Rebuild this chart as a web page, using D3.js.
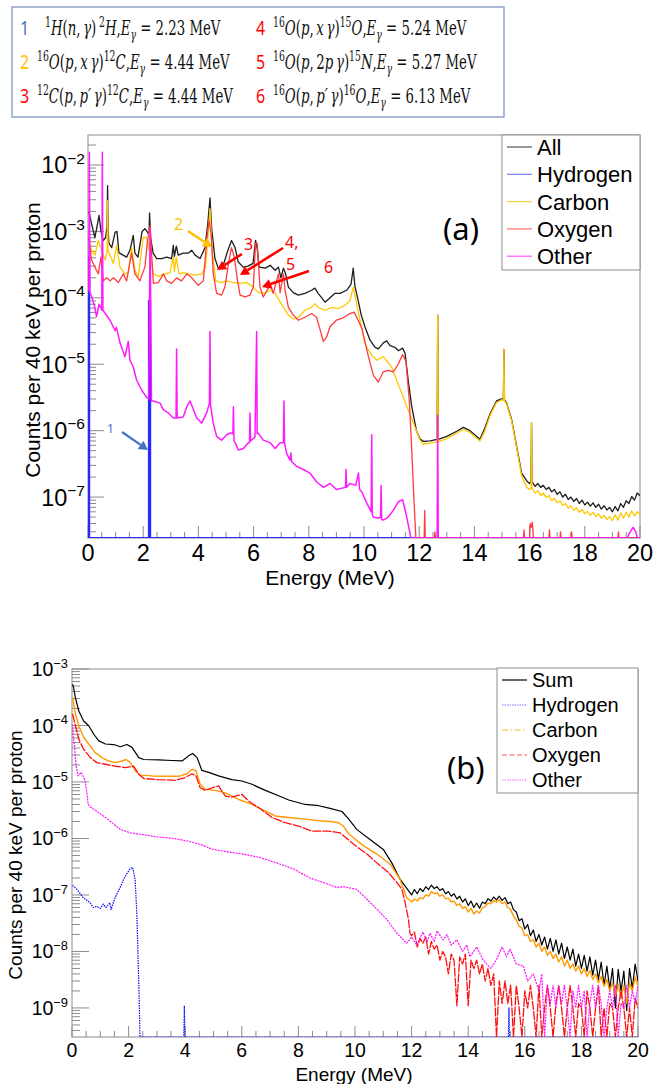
<!DOCTYPE html>
<html><head><meta charset="utf-8">
<script src="https://cdn.jsdelivr.net/npm/d3@7"></script>
<style>body{margin:0;background:#fff}svg{display:block}</style>
</head><body>
<svg id="c" width="663" height="1084"></svg>
<script>
// ---------- axis definitions ----------
const energyTicks = [0,2,4,6,8,10,12,14,16,18,20];
const energyDomain = [0,20];
const countDomainA = [2.42e-8, 2.83e-2];
const countDomainB = [3.06e-10, 1e-3];
const legendA = ["All","Hydrogen","Carbon","Oxygen","Other"];
const legendB = ["Sum","Hydrogen","Carbon","Oxygen","Other"];
const xTitle = "Energy (MeV)";
const yTitle = "Counts per 40 keV per proton";

// ---------- panel (a) series: [energy MeV, counts] ----------
const aAll = [[0,1.9e-3],[0.04,1.93e-3],[0.13,1.3e-3],[0.25,8.1e-4],[0.33,1.2e-3],[0.4,1.74e-3],[0.47,1.0e-3],[0.55,7.3e-4],[0.64,8.1e-4],[0.69,1.2e-3],[0.71,4.9e-3],[0.73,1.0e-3],[0.76,6.6e-4],[0.86,5.7e-4],[0.98,9.7e-4],[1.05,1.0e-3],[1.12,4.8e-4],[1.27,4.4e-4],[1.4,4.1e-4],[1.52,5.2e-4],[1.64,8.7e-4],[1.7,4.7e-4],[1.81,4.1e-4],[1.96,1.0e-3],[2.06,1.1e-3],[2.16,9.7e-4],[2.21,8.7e-4],[2.23,1.9e-3],[2.27,8.0e-4],[2.36,4.7e-4],[2.49,3.9e-4],[2.67,3.9e-4],[2.85,4.1e-4],[3.03,3.9e-4],[3.09,6.2e-4],[3.13,4.2e-4],[3.2,6.0e-4],[3.27,4.4e-4],[3.45,4.7e-4],[3.63,4.7e-4],[3.76,5.2e-4],[3.88,4.4e-4],[4.06,3.9e-4],[4.24,5.7e-4],[4.34,1.3e-3],[4.42,3.2e-3],[4.48,1.1e-3],[4.6,3.9e-4],[4.72,2.8e-4],[4.9,3.1e-4],[5.07,5.2e-4],[5.2,7.3e-4],[5.33,5.7e-4],[5.44,3.5e-4],[5.62,2.9e-4],[5.8,3.0e-4],[5.98,3.3e-4],[6.07,7.3e-4],[6.13,5.5e-4],[6.2,2.9e-4],[6.43,2.8e-4],[6.6,3.1e-4],[6.78,2.6e-4],[6.9,2.9e-4],[6.99,2.0e-4],[7.08,2.8e-4],[7.16,2.3e-4],[7.26,1.45e-4],[7.44,1.2e-4],[7.62,1.1e-4],[7.86,1.17e-4],[8.1,1.3e-4],[8.22,1.4e-4],[8.34,1.17e-4],[8.59,8.6e-5],[8.77,1.0e-4],[8.95,1.17e-4],[9.13,1.17e-4],[9.37,1.3e-4],[9.53,1.6e-4],[9.61,2.8e-4],[9.67,1.5e-4],[9.78,9.5e-5],[9.9,5.5e-5],[10.04,3.6e-5],[10.22,2.3e-5],[10.4,1.8e-5],[10.52,1.7e-5],[10.7,2.1e-5],[10.82,2.25e-5],[10.94,1.9e-5],[11.12,1.8e-5],[11.25,1.6e-5],[11.4,1.75e-5],[11.49,1.45e-5],[11.6,5.8e-6],[11.73,2.3e-6],[11.9,1.0e-6],[12.03,7.5e-7],[12.15,6.9e-7],[12.4,7.0e-7],[12.65,7.4e-7],[12.67,5.5e-5],[12.69,7.4e-7],[13.0,8.2e-7],[13.36,9.8e-7],[13.6,1.12e-6],[13.84,1.0e-6],[14.2,7.4e-7],[14.38,1.1e-6],[14.57,1.8e-6],[14.8,2.8e-6],[14.99,3.0e-6],[15.05,3.0e-6],[15.07,1.67e-5],[15.09,2.9e-6],[15.17,2.6e-6],[15.35,1.46e-6],[15.53,5.8e-7],[15.71,2.3e-7],[15.9,1.75e-7],[16.0,1.6e-7],[16.05,1.7e-7],[16.07,1.3e-6],[16.09,1.7e-7],[16.2,1.45e-7],[16.3,1.6e-7],[16.4,1.4e-7],[16.5,1.5e-7],[16.6,1.3e-7],[16.7,1.4e-7],[16.8,1.2e-7],[16.9,1.3e-7],[17.0,1.1e-7],[17.1,1.2e-7],[17.2,1.0e-7],[17.3,1.1e-7],[17.4,9.2e-8],[17.5,1.0e-7],[17.6,8.6e-8],[17.7,9.5e-8],[17.8,8.0e-8],[17.9,9.0e-8],[18.0,7.6e-8],[18.1,8.4e-8],[18.2,7.3e-8],[18.3,8.2e-8],[18.4,7.0e-8],[18.5,7.8e-8],[18.6,6.6e-8],[18.7,7.4e-8],[18.8,6.4e-8],[18.9,7.0e-8],[19.0,6.0e-8],[19.1,7.2e-8],[19.2,6.2e-8],[19.3,8.0e-8],[19.4,7.0e-8],[19.5,8.8e-8],[19.6,8.0e-8],[19.7,1.02e-7],[19.8,9.0e-8],[19.9,1.15e-7],[20.0,1.05e-7]];
const aHydrogen = [[0,4e-4],[0.04,4e-4],[0.04,0],[2.21,0],[2.21,9e-5],[2.25,9e-5],[2.25,0],[20,0]];
const aCarbon = [[0,7.5e-4],[0.04,7.3e-4],[0.13,5.2e-4],[0.25,4.4e-4],[0.37,7.3e-4],[0.5,5.2e-4],[0.62,3.7e-4],[0.69,5e-4],[0.71,2.9e-3],[0.73,5e-4],[0.8,4.4e-4],[0.92,3.3e-4],[1.04,6.2e-4],[1.16,2.9e-4],[1.34,2.3e-4],[1.46,2.4e-4],[1.58,5.7e-4],[1.7,2.6e-4],[1.82,2.1e-4],[2.0,8.1e-4],[2.12,8.1e-4],[2.21,5.2e-4],[2.23,1.1e-3],[2.27,4e-4],[2.37,2.3e-4],[2.55,2.1e-4],[2.79,2.3e-4],[2.97,2.4e-4],[3.09,4.1e-4],[3.13,2.5e-4],[3.2,4.1e-4],[3.3,2.3e-4],[3.45,2.4e-4],[3.63,2.3e-4],[3.88,2.2e-4],[4.12,2.3e-4],[4.26,2.9e-4],[4.36,1.0e-3],[4.42,2.2e-3],[4.5,5.2e-4],[4.63,1.8e-4],[4.84,1.7e-4],[5.02,1.8e-4],[5.27,1.7e-4],[5.5,1.65e-4],[5.75,1.7e-4],[5.99,1.45e-4],[6.17,1.2e-4],[6.41,1.17e-4],[6.6,1.3e-4],[6.78,1.17e-4],[7.0,8.2e-5],[7.26,5.5e-5],[7.44,4.8e-5],[7.62,5.1e-5],[7.86,6.5e-5],[8.1,7.2e-5],[8.22,8.2e-5],[8.34,7.2e-5],[8.59,6.5e-5],[8.83,7.2e-5],[9.07,6.9e-5],[9.31,7.7e-5],[9.49,9.1e-5],[9.61,1.45e-4],[9.73,8.2e-5],[9.92,3.5e-5],[10.04,2.0e-5],[10.28,1.37e-5],[10.46,1.15e-5],[10.7,1.3e-5],[11.0,9.1e-6],[11.3,4.3e-6],[11.6,2.07e-6],[11.79,1.3e-6],[12.03,7.2e-7],[12.15,6.3e-7],[12.4,6.5e-7],[12.65,6.8e-7],[12.67,5.5e-5],[12.69,6.8e-7],[13.0,7.6e-7],[13.36,9.2e-7],[13.6,1.05e-6],[13.84,9.4e-7],[14.2,7.0e-7],[14.38,1.0e-6],[14.57,1.7e-6],[14.8,2.65e-6],[14.99,2.9e-6],[15.05,2.85e-6],[15.07,1.67e-5],[15.09,2.8e-6],[15.17,2.5e-6],[15.35,1.4e-6],[15.53,5.5e-7],[15.71,2.1e-7],[15.9,1.4e-7],[16.0,1.3e-7],[16.05,1.35e-7],[16.07,1.3e-6],[16.09,1.35e-7],[16.2,1.15e-7],[16.3,1.25e-7],[16.4,1.05e-7],[16.5,1.15e-7],[16.6,9.8e-8],[16.7,1.05e-7],[16.8,8.8e-8],[16.9,9.6e-8],[17.0,8.2e-8],[17.1,8.8e-8],[17.2,7.5e-8],[17.3,8.0e-8],[17.4,6.8e-8],[17.5,7.4e-8],[17.6,6.3e-8],[17.7,6.9e-8],[17.8,5.9e-8],[17.9,6.5e-8],[18.0,5.6e-8],[18.1,6.1e-8],[18.2,5.3e-8],[18.3,5.9e-8],[18.4,5.1e-8],[18.5,5.6e-8],[18.6,4.8e-8],[18.7,5.3e-8],[18.8,4.6e-8],[18.9,5.1e-8],[19.0,4.4e-8],[19.1,5.4e-8],[19.2,4.5e-8],[19.3,5.8e-8],[19.4,4.8e-8],[19.5,5.9e-8],[19.6,5.0e-8],[19.7,6.2e-8],[19.8,5.2e-8],[19.9,6.0e-8],[20.0,5.5e-8]];
const aOxygen = [[0,8e-4],[0.04,7.3e-4],[0.13,3.7e-4],[0.25,2.9e-4],[0.37,2.3e-4],[0.47,4.1e-4],[0.55,1.8e-4],[0.68,2.0e-4],[0.8,1.8e-4],[0.92,2.0e-4],[1.1,1.7e-4],[1.28,2.3e-4],[1.4,1.8e-4],[1.58,4.7e-4],[1.7,2.3e-4],[1.88,1.8e-4],[2.06,2.9e-4],[2.16,7.3e-4],[2.25,1.23e-3],[2.3,5e-4],[2.37,1.65e-4],[2.55,1.7e-4],[2.73,2.3e-4],[2.85,1.8e-4],[3.03,1.65e-4],[3.21,2.0e-4],[3.39,1.8e-4],[3.58,2.3e-4],[3.76,2.0e-4],[4.0,1.55e-4],[4.18,1.8e-4],[4.3,7.3e-4],[4.38,1.46e-3],[4.46,9.3e-4],[4.54,2.3e-4],[4.66,1.17e-4],[4.84,1.1e-4],[4.96,1.45e-4],[5.11,3.7e-4],[5.2,5.7e-4],[5.3,4.1e-4],[5.42,1.8e-4],[5.51,1.1e-4],[5.69,1.03e-4],[5.87,1.1e-4],[5.99,1.45e-4],[6.07,6.6e-4],[6.13,6.6e-4],[6.23,1.45e-4],[6.35,1.03e-4],[6.53,1.4e-4],[6.6,1.65e-4],[6.71,1.17e-4],[6.9,2.3e-4],[6.96,1.2e-4],[7.08,2.3e-4],[7.14,1.3e-4],[7.26,7.2e-5],[7.44,5.5e-5],[7.62,4.6e-5],[7.86,5.1e-5],[8.1,5.8e-5],[8.28,5.1e-5],[8.41,3.3e-5],[8.53,2.2e-5],[8.65,2.6e-5],[8.77,3.7e-5],[9.0,4.6e-5],[9.25,5.0e-5],[9.49,5.8e-5],[9.64,6.1e-5],[9.79,4.6e-5],[9.92,3.5e-5],[10.16,1.3e-5],[10.34,6.8e-6],[10.52,5.4e-6],[10.7,7.7e-6],[10.88,8.1e-6],[11.06,7.7e-6],[11.24,1.0e-5],[11.4,1.4e-5],[11.52,1.1e-5],[11.64,2.9e-6],[11.73,5.1e-7],[11.81,9e-8],[11.88,0],[12.18,0],[12.2,6.3e-8],[12.22,0],[12.55,0],[12.57,3e-8],[12.59,0],[15.78,0],[15.8,3.2e-8],[15.82,0],[16.0,0],[16.02,4e-8],[16.06,3.5e-8],[16.1,4.2e-8],[16.14,0],[16.7,0],[16.72,3.2e-8],[16.74,0],[17.1,0],[17.12,3e-8],[17.14,0],[17.5,0],[17.52,3e-8],[17.54,0],[19.2,0],[19.22,3e-8],[19.24,0],[20,0]];
const aOther = [[0,1.3e-4],[0.03,1.3e-4],[0.05,1.55e-2],[0.07,1.2e-4],[0.15,1.0e-4],[0.25,7e-5],[0.31,5.2e-5],[0.4,8e-5],[0.5,6.5e-5],[0.52,1.55e-2],[0.54,6.5e-5],[0.8,4.6e-5],[0.98,3.2e-5],[1.03,3.6e-5],[1.16,2.1e-5],[1.34,1.3e-5],[1.46,2.2e-5],[1.52,1.15e-5],[1.64,9.1e-6],[1.76,5.8e-6],[1.94,4.1e-6],[2.12,3.2e-6],[2.2,3.0e-6],[2.25,1.1e-3],[2.3,2.8e-6],[2.37,2.8e-6],[2.61,2.6e-6],[2.73,2.07e-6],[2.91,1.85e-6],[3.09,1.55e-6],[3.19,1.55e-6],[3.21,1.7e-5],[3.23,1.55e-6],[3.45,1.6e-6],[3.58,2.3e-6],[3.7,2.8e-6],[3.82,2.07e-6],[3.94,1.55e-6],[4.12,1.3e-6],[4.3,1.85e-6],[4.4,2.6e-6],[4.42,3.1e-5],[4.44,2.4e-6],[4.54,1.3e-6],[4.66,8.2e-7],[4.84,7.2e-7],[5.02,8.7e-7],[5.17,9.2e-7],[5.25,9e-7],[5.27,2.3e-6],[5.29,7e-7],[5.33,6.6e-7],[5.45,5.1e-7],[5.63,5.4e-7],[5.81,6.6e-7],[5.85,6.6e-7],[5.87,1.85e-6],[5.89,7e-7],[6.05,8e-7],[6.11,3.1e-5],[6.13,9e-7],[6.17,9.2e-7],[6.35,7.2e-7],[6.6,6.6e-7],[6.78,5.4e-7],[6.96,6.6e-7],[7.08,6.6e-7],[7.1,2.8e-6],[7.12,6.5e-7],[7.2,4.5e-7],[7.32,3.6e-7],[7.35,4.6e-7],[7.38,3.4e-7],[7.56,2.9e-7],[7.8,2.6e-7],[8.04,2.3e-7],[8.28,1.7e-7],[8.53,1.4e-7],[8.77,1.6e-7],[9.0,1.3e-7],[9.33,1.4e-7],[9.35,2.6e-7],[9.37,1.4e-7],[9.49,1.6e-7],[9.7,1.5e-7],[9.8,2.3e-7],[9.84,1.3e-7],[9.92,1.2e-7],[10.1,8.1e-8],[10.26,6e-8],[10.28,8.7e-7],[10.3,5.5e-8],[10.34,5e-8],[10.52,4.8e-8],[10.6,5e-8],[10.62,1.5e-7],[10.64,4.6e-8],[10.7,4.5e-8],[10.88,5e-8],[11.06,6.3e-8],[11.24,8.5e-8],[11.4,9.1e-8],[11.52,5.7e-8],[11.64,3.2e-8],[11.7,0],[12.65,0],[12.67,1.7e-6],[12.69,0],[19.55,0],[19.6,2.8e-8],[19.75,3.5e-8],[19.85,3e-8],[19.9,0],[20,0]];

// ---------- panel (b) series ----------
const bSum = [[0.02,5.4e-4],[0.06,4.6e-4],[0.12,3.1e-4],[0.24,1.8e-4],[0.41,1.2e-4],[0.59,9.9e-5],[0.77,7.0e-5],[0.94,5.4e-5],[1.18,4.7e-5],[1.47,4.6e-5],[1.71,4.2e-5],[1.94,4.6e-5],[2.12,4.1e-5],[2.36,2.7e-5],[2.53,2.5e-5],[3.06,2.46e-5],[3.53,2.4e-5],[3.89,2.36e-5],[4.12,2.9e-5],[4.26,3.2e-5],[4.42,2.7e-5],[4.59,1.6e-5],[4.83,1.48e-5],[5.18,1.28e-5],[5.65,1.1e-5],[6.0,1.04e-5],[6.36,9.1e-6],[6.83,7.1e-6],[7.3,5.7e-6],[7.66,4.8e-6],[8.24,4.0e-6],[8.72,3.8e-6],[9.12,3.4e-6],[9.54,3.0e-6],[9.78,2.2e-6],[10.06,1.45e-6],[10.53,9.6e-7],[11.0,6.4e-7],[11.3,3.7e-7],[11.59,1.9e-7],[11.94,1.1e-7],[12.0,1.0e-7],[12.1,1.25e-7],[12.2,1.05e-7],[12.3,1.3e-7],[12.4,1.15e-7],[12.5,1.4e-7],[12.6,1.25e-7],[12.7,1.5e-7],[12.8,1.3e-7],[12.9,1.4e-7],[13.0,1.2e-7],[13.1,1.3e-7],[13.2,1.05e-7],[13.3,1.15e-7],[13.4,9.5e-8],[13.5,1.05e-7],[13.6,8.5e-8],[13.7,9.5e-8],[13.8,7.5e-8],[13.9,8.5e-8],[14.0,6.5e-8],[14.1,7.8e-8],[14.2,6.0e-8],[14.3,7.2e-8],[14.4,5.8e-8],[14.5,7.5e-8],[14.6,7.0e-8],[14.7,8.6e-8],[14.8,7.8e-8],[14.9,9.2e-8],[15.0,8.2e-8],[15.1,9.5e-8],[15.2,8.0e-8],[15.3,9.0e-8],[15.4,7.0e-8],[15.5,7.5e-8],[15.6,5.5e-8],[15.7,5.0e-8],[15.8,3.5e-8],[15.9,3.8e-8],[16.0,2.5e-8],[16.1,3.0e-8],[16.2,1.9e-8],[16.3,2.4e-8],[16.4,1.5e-8],[16.5,2.0e-8],[16.6,1.3e-8],[16.7,1.8e-8],[16.8,1.1e-8],[16.9,1.7e-8],[17.0,1.0e-8],[17.1,1.6e-8],[17.2,9e-9],[17.3,1.4e-8],[17.4,7.5e-9],[17.5,1.2e-8],[17.6,7e-9],[17.7,1.1e-8],[17.8,5.5e-9],[17.9,9e-9],[18.0,5e-9],[18.1,8.5e-9],[18.2,4.5e-9],[18.3,8e-9],[18.4,3.8e-9],[18.5,7e-9],[18.6,3.2e-9],[18.7,6.5e-9],[18.8,2.5e-9],[18.9,5.5e-9],[19.0,2.2e-9],[19.1,5e-9],[19.2,1.0e-9],[19.3,4.8e-9],[19.4,2.0e-9],[19.5,4.5e-9],[19.6,9e-10],[19.7,5e-9],[19.8,2.2e-9],[19.9,6e-9],[20.0,3e-9]];
const bHydrogen = [[0.02,1.48e-7],[0.17,1.26e-7],[0.4,8.9e-8],[0.64,7.3e-8],[0.75,6e-8],[0.87,6.3e-8],[1.0,5.8e-8],[1.11,6.9e-8],[1.2,6e-8],[1.34,7.3e-8],[1.38,5.5e-8],[1.52,8.9e-8],[1.7,1.36e-7],[1.87,2.1e-7],[2.05,2.9e-7],[2.14,3.1e-7],[2.23,1.9e-7],[2.29,4.8e-8],[2.34,6.3e-9],[2.38,1.1e-9],[2.4,0],[3.95,0],[3.97,1.1e-9],[3.99,0],[15.42,0],[15.44,1e-9],[15.46,0],[20,0]];
const bCarbon = [[0.02,3.1e-4],[0.12,1.6e-4],[0.24,1.0e-4],[0.41,6.2e-5],[0.59,4.7e-5],[0.82,3.3e-5],[1.06,2.7e-5],[1.3,2.35e-5],[1.53,2.2e-5],[1.77,2.35e-5],[1.91,2.5e-5],[2.06,2.2e-5],[2.24,1.57e-5],[2.41,1.32e-5],[2.83,1.28e-5],[3.3,1.26e-5],[3.77,1.26e-5],[4.06,1.4e-5],[4.24,1.68e-5],[4.38,1.57e-5],[4.53,9.1e-6],[4.71,7.4e-6],[5.06,7.1e-6],[5.42,6.4e-6],[5.89,4.9e-6],[6.36,4.0e-6],[6.83,3.06e-6],[7.18,2.5e-6],[7.66,2.35e-6],[8.24,2.2e-6],[8.83,2.04e-6],[9.12,2.0e-6],[9.42,1.9e-6],[9.59,1.66e-6],[9.78,1.2e-6],[9.95,1.03e-6],[10.3,7.4e-7],[10.77,5.3e-7],[11.24,3.5e-7],[11.59,1.9e-7],[11.83,8.9e-8],[12.0,7.5e-8],[12.1,8.5e-8],[12.2,7.8e-8],[12.3,9e-8],[12.4,8.5e-8],[12.5,1.0e-7],[12.6,9.5e-8],[12.7,1.15e-7],[12.8,1.05e-7],[12.9,1.1e-7],[13.0,9.5e-8],[13.1,1.0e-7],[13.2,8.5e-8],[13.3,8.8e-8],[13.4,7.5e-8],[13.5,7.8e-8],[13.6,6.5e-8],[13.7,7.0e-8],[13.8,5.8e-8],[13.9,6.2e-8],[14.0,5.0e-8],[14.1,5.8e-8],[14.2,4.6e-8],[14.3,5.2e-8],[14.4,4.8e-8],[14.5,6.0e-8],[14.6,6.2e-8],[14.7,7.2e-8],[14.8,7.0e-8],[14.9,8.0e-8],[15.0,7.5e-8],[15.1,8.2e-8],[15.2,7.0e-8],[15.3,7.5e-8],[15.4,6.0e-8],[15.5,5.5e-8],[15.6,4.2e-8],[15.7,3.6e-8],[15.8,2.8e-8],[15.9,2.6e-8],[16.0,1.9e-8],[16.1,2.0e-8],[16.2,1.5e-8],[16.3,1.6e-8],[16.4,1.2e-8],[16.5,1.4e-8],[16.6,1.0e-8],[16.7,1.2e-8],[16.8,8.5e-9],[16.9,1.0e-8],[17.0,7.5e-9],[17.1,9e-9],[17.2,6.5e-9],[17.3,8e-9],[17.4,5.5e-9],[17.5,7e-9],[17.6,5e-9],[17.7,6e-9],[17.8,4.5e-9],[17.9,5.5e-9],[18.0,4e-9],[18.1,5e-9],[18.2,3.6e-9],[18.3,4.6e-9],[18.4,3.2e-9],[18.5,4e-9],[18.6,2.8e-9],[18.7,3.6e-9],[18.8,2.4e-9],[18.9,3.2e-9],[19.0,2e-9],[19.1,2.8e-9],[19.2,1.6e-9],[19.3,2.6e-9],[19.4,1.5e-9],[19.5,2.5e-9],[19.6,1.2e-9],[19.7,2.8e-9],[19.8,2e-9],[19.9,3.5e-9],[20.0,2.5e-9]];
const bOxygen = [[0.02,1.6e-4],[0.12,1.0e-4],[0.24,5.7e-5],[0.41,3.8e-5],[0.65,2.7e-5],[0.88,2.2e-5],[1.18,2.06e-5],[1.53,1.9e-5],[1.88,1.8e-5],[2.18,1.9e-5],[2.36,1.37e-5],[2.53,1.15e-5],[3.06,1.1e-5],[3.65,1.07e-5],[4.0,1.2e-5],[4.24,1.4e-5],[4.38,1.28e-5],[4.53,7.9e-6],[4.71,7.1e-6],[4.95,7.9e-6],[5.18,8.5e-6],[5.42,5.6e-6],[5.65,5.4e-6],[6.0,6.05e-6],[6.24,4.6e-6],[6.6,3.5e-6],[7.07,2.35e-6],[7.54,1.9e-6],[8.0,1.66e-6],[8.48,1.35e-6],[9.07,1.35e-6],[9.47,1.26e-6],[9.83,8.9e-7],[9.95,7.9e-7],[10.42,5.3e-7],[10.89,3.3e-7],[11.18,2.5e-7],[11.48,1.66e-7],[11.66,1.26e-7],[11.77,7.3e-8],[11.89,3.7e-8],[11.94,2.1e-8],[12.0,1.9e-8],[12.1,2.2e-8],[12.2,1.2e-8],[12.3,1.7e-8],[12.4,1.4e-8],[12.5,1.8e-8],[12.6,9e-9],[12.7,1.5e-8],[12.8,1.1e-8],[12.9,1.3e-8],[13.0,7e-9],[13.1,1.0e-8],[13.2,8e-9],[13.3,4e-9],[13.4,9e-9],[13.5,7e-9],[13.6,1.1e-9],[13.7,8e-9],[13.8,6e-9],[13.9,9e-9],[14.0,1.1e-9],[14.1,7e-9],[14.2,5e-9],[14.3,7e-9],[14.4,4e-9],[14.5,6e-9],[14.6,3e-9],[14.7,5e-9],[14.8,2.5e-9],[14.9,4e-9],[15.0,0],[15.1,3e-9],[15.2,1.2e-9],[15.3,3e-9],[15.4,1.2e-9],[15.5,2.5e-9],[15.6,0],[15.7,2.5e-9],[15.8,1e-9],[15.9,0],[16.0,2e-9],[16.1,1e-9],[16.2,2.5e-9],[16.3,1e-9],[16.4,0],[16.5,2.5e-9],[16.6,0],[16.7,1e-9],[16.8,2.5e-9],[16.9,1e-9],[17.0,0],[17.1,1.2e-9],[17.2,2.5e-9],[17.3,1e-9],[17.4,0],[17.5,1e-9],[17.6,2.5e-9],[17.7,1e-9],[17.8,0],[17.9,1.2e-9],[18.0,1e-9],[18.1,0],[18.2,2e-9],[18.3,1e-9],[18.4,0],[18.5,1e-9],[18.6,2.5e-9],[18.7,0],[18.8,1e-9],[18.9,0],[19.0,1.2e-9],[19.1,1e-9],[19.2,0],[19.3,1e-9],[19.4,2e-9],[19.5,1e-9],[19.6,0],[19.7,1e-9],[19.8,0],[19.9,1.5e-9],[20.0,1e-9]];
const bOther = [[0.0,1.05e-4],[0.09,4.1e-5],[0.14,2.06e-5],[0.21,1.28e-5],[0.33,1.48e-5],[0.45,1.1e-5],[0.52,7e-6],[0.57,4e-6],[0.65,3.6e-6],[0.87,3.06e-6],[1.34,2.04e-6],[1.7,1.45e-6],[2.05,1.26e-6],[2.52,1.17e-6],[2.99,1.07e-6],[3.58,1.0e-6],[4.05,9.1e-7],[4.52,7.9e-7],[4.99,6.4e-7],[5.7,5.6e-7],[6.05,5.3e-7],[6.64,4.6e-7],[7.23,3.7e-7],[7.82,2.9e-7],[8.41,2.0e-7],[8.88,1.66e-7],[9.12,1.5e-7],[9.35,1.36e-7],[9.59,1.4e-7],[10.06,1.26e-7],[10.42,8.4e-8],[10.77,5.6e-8],[11.12,3.7e-8],[11.48,2.1e-8],[11.83,1.4e-8],[12.0,1.8e-8],[12.18,1.3e-8],[12.4,2.2e-8],[12.55,1.5e-8],[12.65,2.1e-8],[12.8,1.5e-8],[12.9,2.3e-8],[13.12,1.6e-8],[13.25,2.0e-8],[13.4,1.3e-8],[13.6,1.6e-8],[13.8,1.0e-8],[13.95,1.3e-8],[14.06,8e-9],[14.3,1.2e-8],[14.53,7e-9],[14.8,5e-9],[15.0,7.2e-9],[15.2,1.2e-8],[15.35,8e-9],[15.48,1.1e-8],[15.7,6e-9],[15.95,5.5e-9],[16.1,3e-9],[16.3,4e-9],[16.5,2e-9],[16.6,4e-9],[16.7,0],[16.8,2.5e-9],[16.9,1.2e-9],[17.0,2.5e-9],[17.1,1e-9],[17.2,2.5e-9],[17.3,1.2e-9],[17.4,2.5e-9],[17.5,1e-9],[17.6,0],[17.7,2e-9],[17.8,1e-9],[17.9,2.5e-9],[18.0,1e-9],[18.1,2e-9],[18.2,0],[18.3,1.2e-9],[18.4,2.5e-9],[18.5,1e-9],[18.6,2.5e-9],[18.7,1.2e-9],[18.8,0],[18.9,1e-9],[19.0,2e-9],[19.1,1e-9],[19.2,2.5e-9],[19.3,0],[19.4,1.2e-9],[19.5,1e-9],[19.6,2.5e-9],[19.7,1e-9],[19.8,2e-9],[19.9,1.2e-9],[20.0,2.5e-9]];

// ---------- drawing ----------
const svg = d3.select("#c");
const SANS = "'Liberation Sans', Arial, Helvetica, sans-serif";
const FRAME = "#8c8c8c";

function panel(o){
  const g = svg.append("g");
  const x = d3.scaleLinear().domain(energyDomain).range([o.l, o.r]);
  const y = d3.scaleLog().domain(o.yDom).range([o.b, o.t]).clamp(true);
  const yp = v => v > 0 ? y(v) : o.b;

  g.append("clipPath").attr("id", o.id).append("rect")
    .attr("x", o.l).attr("y", o.t - 1).attr("width", o.r - o.l).attr("height", o.b - o.t + 1);

  g.append("rect").attr("x", o.l).attr("y", o.t).attr("width", o.r - o.l).attr("height", o.b - o.t)
    .attr("fill", "none").attr("stroke", FRAME).attr("stroke-width", 1);

  d3.range(0, 20.001, 0.5).forEach(e => {
    const major = Math.abs(e % 2) < 1e-6;
    g.append("line").attr("x1", x(e)).attr("x2", x(e)).attr("y1", o.b).attr("y2", o.b - (major ? o.xMaj : o.xMin))
      .attr("stroke", FRAME).attr("stroke-width", 1);
  });
  energyTicks.forEach(e => {
    g.append("text").attr("x", x(e)).attr("y", o.xLabY).attr("text-anchor", "middle")
      .attr("font-family", SANS).attr("font-size", o.tickFs).text(e);
  });
  const lo = Math.floor(Math.log10(o.yDom[0])), hi = Math.ceil(Math.log10(o.yDom[1]));
  for (let d = lo; d <= hi; d++) {
    for (let k = 1; k <= 9; k++) {
      const v = k * Math.pow(10, d);
      if (v < o.yDom[0] * 0.999 || v > o.yDom[1] * 1.001) continue;
      g.append("line").attr("x1", o.l).attr("x2", o.l + (k === 1 ? o.yMaj : o.yMin))
        .attr("y1", y(v)).attr("y2", y(v)).attr("stroke", FRAME).attr("stroke-width", 1);
      if (k === 1) {
        const t = g.append("text").attr("x", o.yLabX).attr("y", y(v) + o.tickFs * 0.36)
          .attr("text-anchor", "end").attr("font-family", SANS).attr("font-size", o.tickFs);
        t.append("tspan").text("10");
        t.append("tspan").attr("dy", -o.tickFs * 0.42).attr("font-size", o.tickFs * 0.66).text("\u2212" + (-d));
      }
    }
  }
  const line = d3.line().x(d => x(d[0])).y(d => yp(d[1]));
  o.series.forEach(s => {
    g.append("path").datum(s.data).attr("clip-path", `url(#${o.id})`)
      .attr("fill", "none").attr("stroke", s.color).attr("stroke-width", s.w)
      .attr("stroke-dasharray", s.dash || null).attr("stroke-linejoin", "round").attr("d", line);
  });
  g.append("text").attr("x", o.xTitleX).attr("y", o.xTitleY).attr("text-anchor", "middle")
    .attr("font-family", SANS).attr("font-size", o.titleFs).text(xTitle);
  g.append("text").attr("transform", `translate(${o.yTitleX},${o.yTitleY}) rotate(-90)`)
    .attr("text-anchor", "middle").attr("font-family", SANS).attr("font-size", o.titleFs).text(yTitle);
  const L = o.leg;
  g.append("rect").attr("x", L.x).attr("y", L.y).attr("width", L.w).attr("height", L.h)
    .attr("fill", "#fff").attr("stroke", FRAME).attr("stroke-width", 1);
  o.series.forEach((s, i) => {
    const yy = L.y + L.first + i * L.step;
    g.append("line").attr("x1", L.x + 5).attr("x2", L.x + 30).attr("y1", yy).attr("y2", yy)
      .attr("stroke", s.legColor || s.color).attr("stroke-width", 1.2).attr("stroke-dasharray", s.legDash || null);
    g.append("text").attr("x", L.x + 35).attr("y", yy + L.fs * 0.36).attr("font-family", SANS)
      .attr("font-size", L.fs).text(o.labels[i]);
  });
  g.append("text").attr("x", o.tag[0]).attr("y", o.tag[1]).attr("font-family", "'Noto Sans', 'Open Sans', sans-serif")
    .attr("font-size", 31).text(o.tag[2]);
  return {x, y};
}

panel({
  id: "clipA", l: 88, r: 640, t: 135, b: 538, yDom: countDomainA,
  xMaj: 12, xMin: 6, yMaj: 16, yMin: 8, tickFs: 23.5, xLabY: 561, yLabX: 85,
  titleFs: 21, xTitleX: 330, xTitleY: 585, yTitleX: 40, yTitleY: 340,
  labels: legendA, tag: [443, 240, "(a)"],
  leg: {x: 502, y: 135, w: 138, h: 135, first: 12, step: 27.3, fs: 22},
  series: [
    {data: aAll, color: "#1e1e1e", w: 1.3, legColor: "#555"},
    {data: aHydrogen, color: "#2a2aff", w: 2.2, legColor: "#7a7aff"},
    {data: aCarbon, color: "#ffc800", w: 1.3, legColor: "#ffd040"},
    {data: aOxygen, color: "#ff3c3c", w: 1.3, legColor: "#ff7070"},
    {data: aOther, color: "#ff1aff", w: 1.5, legColor: "#ff55ff"}
  ]
});

panel({
  id: "clipB", l: 72, r: 638, t: 669, b: 1037, yDom: countDomainB,
  xMaj: 11, xMin: 6, yMaj: 17, yMin: 8, tickFs: 19.5, xLabY: 1057, yLabX: 68,
  titleFs: 19, xTitleX: 354, xTitleY: 1081, yTitleX: 22, yTitleY: 855,
  labels: legendB, tag: [447, 779, "(b)"],
  leg: {x: 497, y: 668, w: 141, h: 125, first: 12, step: 25, fs: 20},
  series: [
    {data: bSum, color: "#000", w: 1.2},
    {data: bHydrogen, color: "#1010ff", w: 1.2, dash: "1.5,1", legColor: "#7777ff", legDash: "1.5,1"},
    {data: bCarbon, color: "#ff9a00", w: 1.4, legColor: "#ffb040", legDash: "6,2.5,1.5,2.5"},
    {data: bOxygen, color: "#ff1010", w: 1.3, dash: "9,1.2", legColor: "#ff5050", legDash: "5,2.5"},
    {data: bOther, color: "#ff10ff", w: 1.2, dash: "2,1", legColor: "#ff66ff", legDash: "1.5,1"}
  ]
});

// ---------- annotations in (a) ----------
function arrow(x1, y1, x2, y2, col, w){
  const ang = Math.atan2(y2 - y1, x2 - x1), L = 9, W = 5;
  const bx = x2 - L * Math.cos(ang), by = y2 - L * Math.sin(ang);
  svg.append("line").attr("x1", x1).attr("y1", y1).attr("x2", bx).attr("y2", by)
    .attr("stroke", col).attr("stroke-width", w);
  const px = -Math.sin(ang) * W, py = Math.cos(ang) * W;
  svg.append("polygon").attr("points", `${x2},${y2} ${bx+px},${by+py} ${bx-px},${by-py}`).attr("fill", col);
}
const CAL = "'Noto Sans', 'Open Sans', sans-serif";
function note(x, y, s, col, fs){
  svg.append("text").attr("x", x).attr("y", y).attr("font-family", CAL).attr("font-size", fs).attr("fill", col).text(s);
}
note(174, 230, "2", "#ffc000", 16); arrow(188, 231, 212, 247, "#ffc000", 2.6);
note(244, 250, "3", "#ff0000", 16); arrow(242, 254, 217, 270, "#ff0000", 2.6);
note(285, 248, "4,", "#ff0000", 16); arrow(283, 248, 240, 275, "#ff0000", 2.6);
note(286, 270, "5", "#ff0000", 16);
note(324, 273, "6", "#ff0000", 16); arrow(309, 271, 262, 287, "#ff0000", 2.6);
note(107, 433, "1", "#4472c4", 12); arrow(122, 432, 148, 450, "#4472c4", 2.2);

// ---------- reaction box ----------
svg.append("rect").attr("x", 12).attr("y", 7).attr("width", 492).attr("height", 110)
  .attr("fill", "#fff").attr("stroke", "#8096c4").attr("stroke-width", 1.3);
const reactions = [
  {n: "1", col: "#4472c4", nx: 20, x: 45, y: 35, segs: [["1","sup"],["H","i"],["(","n"],["n","i"],[",\u2009","n"],["\u03b3","i"],[")\u2009","n"],["2","sup"],["H","i"],[",","n"],["E","i"],["\u03b3","isub"],[" = 2.23 MeV","n"]]},
  {n: "2", col: "#ffc000", nx: 20, x: 37, y: 69, segs: [["16","sup"],["O","i"],["(","n"],["p","i"],[",\u2009","n"],["x","i"],["\u2009","n"],["\u03b3","i"],[")","n"],["12","sup"],["C","i"],[",","n"],["E","i"],["\u03b3","isub"],[" = 4.44 MeV","n"]]},
  {n: "3", col: "#ff0000", nx: 20, x: 37, y: 103, segs: [["12","sup"],["C","i"],["(","n"],["p","i"],[",\u2009","n"],["p\u2032","i"],["\u2009","n"],["\u03b3","i"],[")","n"],["12","sup"],["C","i"],[",","n"],["E","i"],["\u03b3","isub"],[" = 4.44 MeV","n"]]},
  {n: "4", col: "#ff0000", nx: 256, x: 273, y: 35, segs: [["16","sup"],["O","i"],["(","n"],["p","i"],[",\u2009","n"],["x","i"],["\u2009","n"],["\u03b3","i"],[")","n"],["15","sup"],["O","i"],[",","n"],["E","i"],["\u03b3","isub"],[" = 5.24 MeV","n"]]},
  {n: "5", col: "#ff0000", nx: 256, x: 273, y: 69, segs: [["16","sup"],["O","i"],["(","n"],["p","i"],[",\u2009","n"],["2","n"],["p","i"],["\u2009","n"],["\u03b3","i"],[")","n"],["15","sup"],["N","i"],[",","n"],["E","i"],["\u03b3","isub"],[" = 5.27 MeV","n"]]},
  {n: "6", col: "#ff0000", nx: 256, x: 273, y: 103, segs: [["16","sup"],["O","i"],["(","n"],["p","i"],[",\u2009","n"],["p\u2032","i"],["\u2009","n"],["\u03b3","i"],[")","n"],["16","sup"],["O","i"],[",","n"],["E","i"],["\u03b3","isub"],[" = 6.13 MeV","n"]]}
];
const SX = 0.665, FS = 20;
reactions.forEach(r => {
  svg.append("text").attr("transform", `translate(${r.nx},${r.y}) scale(0.8,1)`)
    .attr("font-family", CAL).attr("font-size", 20).attr("fill", r.col).text(r.n);
  const t = svg.append("text").attr("transform", `translate(${r.x},${r.y}) scale(${SX},1)`)
    .attr("font-family", "'DejaVu Serif', 'Liberation Serif', serif").attr("font-size", FS).attr("fill", "#111");
  let shift = 0;
  r.segs.forEach(([s, st]) => {
    const target = st === "sup" ? -0.4 * FS : (st === "isub" ? 0.25 * FS : 0);
    const ts = t.append("tspan").attr("dy", target - shift).text(s);
    shift = target;
    if (st === "i" || st === "isub") ts.attr("font-style", "italic");
    if (st === "sup" || st === "isub") ts.attr("font-size", FS * 0.7);
  });
});
</script>
</body></html>
